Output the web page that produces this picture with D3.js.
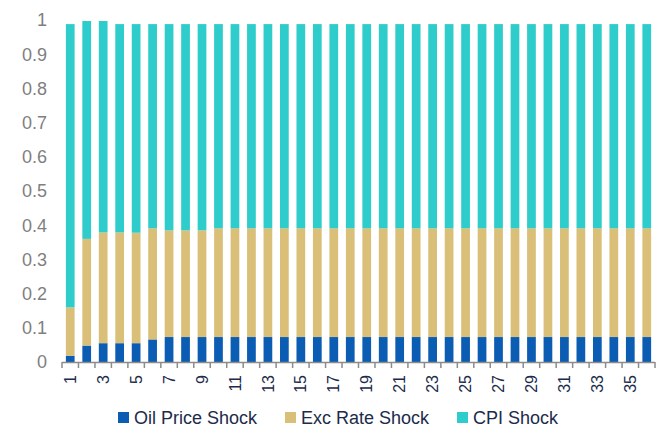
<!DOCTYPE html>
<html>
<head>
<meta charset="utf-8">
<script src="https://cdn.jsdelivr.net/npm/d3@7"></script>
<style>
  html, body { margin: 0; padding: 0; background: #fff; }
  svg { display: block; font-family: "Liberation Sans", Arial, sans-serif; }
</style>
</head>
<body>
<svg id="chart" width="663" height="429"></svg>
<script>
// Horizons 1..36
const periods = d3.range(1, 37);

// Variance shares for each shock
const oilPriceShock = [0.018, 0.048, 0.055, 0.055, 0.055, 0.066,
  0.073, 0.073, 0.073, 0.073, 0.073, 0.073, 0.073, 0.073, 0.073, 0.073,
  0.073, 0.073, 0.073, 0.073, 0.073, 0.073, 0.073, 0.073, 0.073, 0.073,
  0.073, 0.073, 0.073, 0.073, 0.073, 0.073, 0.073, 0.073, 0.073, 0.073];
const excRateShock = [0.142, 0.312, 0.324, 0.324, 0.323, 0.325,
  0.312, 0.312, 0.312, 0.318, 0.318, 0.318, 0.318, 0.318, 0.318, 0.318,
  0.318, 0.318, 0.318, 0.318, 0.318, 0.318, 0.318, 0.318, 0.318, 0.318,
  0.318, 0.318, 0.318, 0.318, 0.318, 0.318, 0.318, 0.318, 0.318, 0.318];
const cpiShock = [0.828, 0.637, 0.618, 0.609, 0.610, 0.597,
  0.603, 0.603, 0.603, 0.597, 0.597, 0.597, 0.597, 0.597, 0.597, 0.597,
  0.597, 0.597, 0.597, 0.597, 0.597, 0.597, 0.597, 0.597, 0.597, 0.597,
  0.597, 0.597, 0.597, 0.597, 0.597, 0.597, 0.597, 0.597, 0.597, 0.597];

const seriesNames = ["Oil Price Shock", "Exc Rate Shock", "CPI Shock"];
const seriesColors = ["#0b5db4", "#d9bf77", "#2ecccb"];
const yTicks = [0, 0.1, 0.2, 0.3, 0.4, 0.5, 0.6, 0.7, 0.8, 0.9, 1];

const rows = periods.map((p, i) => ({
  period: p,
  "Oil Price Shock": oilPriceShock[i],
  "Exc Rate Shock": excRateShock[i],
  "CPI Shock": cpiShock[i]
}));

const svg = d3.select("#chart");
const plotLeft = 62, plotRight = 655, plotTop = 20, plotBottom = 362;

const x = d3.scaleBand()
  .domain(periods)
  .range([plotLeft, plotRight])
  .paddingInner(0.47)
  .paddingOuter(0.235);

const y = d3.scaleLinear().domain([0, 1]).range([plotBottom, plotTop]);
const color = d3.scaleOrdinal().domain(seriesNames).range(seriesColors);

const stacked = d3.stack().keys(seriesNames)(rows);

// Stacked bars
svg.append("g")
  .selectAll("g")
  .data(stacked)
  .join("g")
  .attr("fill", d => color(d.key))
  .selectAll("rect")
  .data(d => d)
  .join("rect")
  .attr("x", d => x(d.data.period))
  .attr("width", x.bandwidth())
  .attr("y", d => y(d[1]))
  .attr("height", d => y(d[0]) - y(d[1]));

// Y labels (no axis line)
svg.append("g")
  .selectAll("text")
  .data(yTicks)
  .join("text")
  .attr("x", 47)
  .attr("y", d => y(d))
  .attr("dy", "0.35em")
  .attr("text-anchor", "end")
  .attr("font-size", 18)
  .attr("fill", "#7f7f7f")
  .text(d => d3.format("~g")(d));

// X axis line with ticks at category boundaries
const step = x.step();
const axisG = svg.append("g").attr("stroke", "#8c8c8c").attr("stroke-width", 1.5);
axisG.append("line")
  .attr("x1", plotLeft).attr("x2", plotRight)
  .attr("y1", plotBottom + 0.5).attr("y2", plotBottom + 0.5);
axisG.selectAll("line.tick")
  .data(d3.range(0, periods.length + 1))
  .join("line")
  .attr("class", "tick")
  .attr("x1", i => plotLeft + i * step)
  .attr("x2", i => plotLeft + i * step)
  .attr("y1", plotBottom)
  .attr("y2", plotBottom + 6);

// Rotated period labels, every other one
svg.append("g")
  .selectAll("text")
  .data(periods.filter(p => p % 2 === 1))
  .join("text")
  .attr("transform", d => `translate(${x(d) + x.bandwidth() / 2},${plotBottom + 13}) rotate(-90)`)
  .attr("text-anchor", "end")
  .attr("dy", "0.35em")
  .attr("font-size", 16)
  .attr("fill", "#1c2b4b")
  .text(d => d);

// Legend
const legendItems = [
  { name: seriesNames[0], x: 118 },
  { name: seriesNames[1], x: 285 },
  { name: seriesNames[2], x: 457 }
];
const lg = svg.append("g").selectAll("g")
  .data(legendItems)
  .join("g")
  .attr("transform", d => `translate(${d.x},418)`);
lg.append("rect")
  .attr("x", 0).attr("y", -6)
  .attr("width", 11).attr("height", 11)
  .attr("fill", d => color(d.name));
lg.append("text")
  .attr("x", 16).attr("y", 0)
  .attr("dy", "0.35em")
  .attr("font-size", 18)
  .attr("fill", "#1c2b4b")
  .text(d => d.name);
</script>
</body>
</html>
